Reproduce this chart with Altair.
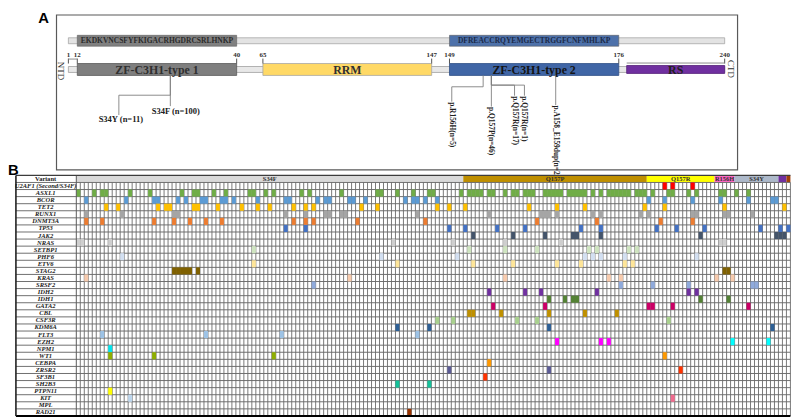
import altair as alt
import numpy as np
import pandas as pd

# =================== DATA ===================
# ---- Panel A: U2AF1 protein ----
PROTEIN_START, PROTEIN_END = 1, 240
DOMAIN_NAMES = ["ZF-C3H1-type 1", "RRM", "ZF-C3H1-type 2", "RS"]
DOMAIN_START = [12, 65, 149, 182]
DOMAIN_END = [40, 147, 176, 240]
TICK_POS = [1, 12, 40, 65, 147, 149, 176, 240]
SEQ_START = [12, 149]
SEQ_END = [40, 176]
SEQ_TEXT = ["EKDKVNCSFYFKIGACRHGDRCSRLHNKP", "DFREACCRQYEMGECTRGGFCNFMHLKP"]
MUT_LABEL = ["S34F (n=100)", "S34Y (n=11)", "p.R156H(n=5)", "p.Q157P(n=46)",
             "p.Q157R(n=17)", "p.Q157R(n=1)", "p.A158_E159dup(n=2)"]
MUT_POS = [34, 34, 156, 157, 157, 157, 158]

# ---- Panel B: co-mutation map ----
VARIANTS = ["S34F", "Q157P", "Q157R", "R156H", "S34Y", "A158_E159dup", "Q157R(n=1)"]
VARIANT_N = [97, 46, 17, 5, 11, 2, 1]
VARIANT_TEXT = ["S34F", "Q157P", "Q157R", "R156H", "S34Y", "", ""]
GENES = ["U2AF1 (Second/S34F)", "ASXL1", "BCOR", "TET2", "RUNX1", "DNMT3A", "TP53", "JAK2",
         "NRAS", "SETBP1", "PHF6", "ETV6", "STAG2", "KRAS", "SRSF2", "IDH2", "IDH1", "GATA2",
         "CBL", "CSF3R", "KDM6A", "FLT3", "EZH2", "NPM1", "WT1", "CEBPA", "ZRSR2", "SF3B1",
         "SH2B3", "PTPN11", "KIT", "MPL", "RAD21"]
U2AF1_COLS = [147, 149, 154]
ASXL1_COLS = [0, 4, 6, 7, 13, 18, 26, 29, 30, 34, 37, 43, 44, 47, 49, 56, 58, 66, 75, 76, 80, 84,
              88, 89, 96, 98, 99, 100, 101, 103, 104, 107, 109, 110, 112, 113, 114, 117, 118, 119,
              120, 121, 123, 124, 125, 126, 127, 129, 131, 133, 134, 135, 136, 137, 138, 140, 141,
              142, 144, 148, 149, 153, 155, 161, 162, 165, 168]
BCOR_COLS = [2, 12, 19, 20, 25, 27, 31, 32, 36, 37, 39, 45, 52, 53, 60, 62, 63, 68, 69, 72, 82,
             84, 85, 87, 90, 143, 147, 154, 161, 168, 174, 175]
TET2_COLS = [7, 10, 20, 22, 23, 29, 30, 35, 41, 45, 48, 54, 57, 59, 71, 75, 90, 93, 97, 113, 120,
             127, 142, 147, 162, 177]
RUNX1_COLS = [2, 11, 24, 25, 52, 57, 62, 63, 66, 67, 85, 103, 116, 117, 118, 120, 129, 131, 141,
              143, 154, 155, 162, 163, 169]
DNMT3A_COLS = [2, 6, 19, 24, 28, 32, 36, 54, 57, 59, 70, 87, 115, 130, 146, 154]
TP53_COLS = [52, 57, 93, 97, 105, 112, 126, 131, 145, 150, 157, 171, 176, 178]
JAK2_COLS = [99, 109, 117, 124, 125, 131, 156, 175, 176, 177]
NRAS_COLS = [0, 1, 8, 79, 94, 107, 121, 161, 162]
SETBP1_COLS = [44, 98, 107, 115, 128, 130, 138, 140]
PHF6_COLS = [11, 76, 95, 127, 129, 131, 137, 155]
ETV6_COLS = [44, 80, 99, 109, 120, 126, 137, 139]
STAG2_COLS = [24, 25, 26, 27, 28, 30, 162, 163]
KRAS_COLS = [2, 68, 107, 133, 136, 160, 164]
SRSF2_COLS = [59, 136, 144, 153, 169, 170]
IDH2_COLS = [103, 112, 116, 130, 153, 155]
IDH1_COLS = [118, 122, 124, 125, 156, 163]
GATA2_COLS = [104, 117, 143, 144, 149, 168]
CBL_COLS = [98, 99, 106, 118, 127, 135]
CSF3R_COLS = [90, 94, 110, 115, 148]
KDM6A_COLS = [80, 88, 118, 174]
FLT3_COLS = [6, 32, 51, 85]
EZH2_COLS = [120, 131, 133]
NPM1_COLS = [8]
WT1_COLS = [8, 19, 49]
CEBPA_COLS = [103]
ZRSR2_COLS = [93, 118]
SF3B1_COLS = [102]
SH2B3_COLS = [80, 88]
PTPN11_COLS = [8]
KIT_COLS = [13]
MPL_COLS = []
RAD21_COLS = [83]
# cells drawn in a second colour
EZH2_ALT_COLS = [164, 173]
WT1_ALT_COLS = [147]
ZRSR2_ALT_COLS = [151]
KIT_ALT_COLS = [149]

GENE_COLS = [U2AF1_COLS, ASXL1_COLS, BCOR_COLS, TET2_COLS, RUNX1_COLS, DNMT3A_COLS, TP53_COLS,
             JAK2_COLS, NRAS_COLS, SETBP1_COLS, PHF6_COLS, ETV6_COLS, STAG2_COLS, KRAS_COLS,
             SRSF2_COLS, IDH2_COLS, IDH1_COLS, GATA2_COLS, CBL_COLS, CSF3R_COLS, KDM6A_COLS,
             FLT3_COLS, EZH2_COLS, NPM1_COLS, WT1_COLS, CEBPA_COLS, ZRSR2_COLS, SF3B1_COLS,
             SH2B3_COLS, PTPN11_COLS, KIT_COLS, MPL_COLS, RAD21_COLS]
ALT_CELLS = [("EZH2", EZH2_ALT_COLS), ("WT1", WT1_ALT_COLS), ("ZRSR2", ZRSR2_ALT_COLS),
             ("KIT", KIT_ALT_COLS)]

# =================== STYLE / LAYOUT ===================
W, HA, HB = 792, 166, 245
SERIF = "Liberation Serif"
SANS = "Liberation Sans"
A_AA_KNOTS = [1, 12, 34, 40, 65, 147, 149, 156, 157, 158, 176, 182, 240]
A_PX_KNOTS = [61, 70, 164, 231, 257.5, 428, 446, 480, 488.3, 553.3, 617, 625, 724]
DOMAIN_FILL = ["#7f7f7f", "#ffd966", "#4066a6", "#7030a0"]
DOMAIN_STROKE = ["#5a5a5a", "#a6a6a6", "#2f4f85", "#55207a"]
DOMAIN_TEXT = ["#303030", "#303030", "#141414", "#202020"]
DOMAIN_Y1 = [54, 54, 54, 56]
DOMAIN_Y2 = [66, 66, 66, 64]
SEQ_FILL = ["#808080", "#4d71aa"]
SEQ_TEXT_COLOR = ["#2b2b2b", "#1c2a48"]
LBL_PX = [164, 112, 448.3, 488.3, 511.7, 521.7, 553.3]
LBL_ELBOW = [None, 86, 77.5, None, 75.8, 75.8, None]
LBL_END = [97, 106, 92.5, 97.5, 86.5, 86.5, 96]
LBL_ROT = [False, False, True, True, True, True, True]
LBL_DX = [5.5, 2, 0, 0, 0, 0, 0]

VARIANT_FILL = ["#d9d9d9", "#bf8f00", "#ffff00", "#ff66c4", "#adb9ca", "#7030a0", "#a0400a"]
GENE_FILL = ["#ff0000", "#70ad47", "#5b9bd5", "#ffc000", "#a5a5a5", "#ed7d31", "#4472c4",
             "#44546a", "#cfcfcf", "#cfe5c0", "#d3e0f2", "#ffe699", "#7f6000", "#f8cbad",
             "#8faadc", "#7030a0", "#548235", "#cc0066", "#bf9000", "#a9d18e", "#2e6096",
             "#9dc3e6", "#ff00ff", "#00e5ee", "#8fae00", "#ff9900", "#5c5c96", "#ff3300",
             "#14c29a", "#ffff00", "#bdd7ee", "#999999", "#993300"]
ALT_FILL = {"EZH2": "#00ffff", "WT1": "#ff9900", "ZRSR2": "#ff3300", "KIT": "#f06a8e"}
B_X0, B_X1 = 69, 790.4
B_Y0, B_Y1 = 1, 244
LABEL_X, LABEL_LEFT = 38, 8


def inv_px(px):
    return float(np.interp(px, A_PX_KNOTS, A_AA_KNOTS))


def fwd_aa(a):
    return float(np.interp(a, A_AA_KNOTS, A_PX_KNOTS))


def mid_aa(a, b):
    return inv_px((fwd_aa(a) + fwd_aa(b)) / 2)


XA = alt.Scale(domain=A_AA_KNOTS, range=A_PX_KNOTS, zero=False, nice=False)
YA = alt.Scale(domain=[0, HA], range=[0, HA], zero=False, nice=False)

# =================== PANEL A ===================
one = pd.DataFrame({"k": [0]})
frame = alt.Chart(one).mark_rect(fillOpacity=0, stroke="#595959", strokeWidth=1.2).encode(
    x=alt.value(49), x2=alt.value(737), y=alt.value(5), y2=alt.value(161.5))


def bar_layer(df, **kw):
    return alt.Chart(df).mark_rect(**kw).encode(
        x=alt.X("s:Q", scale=XA, axis=None), x2="e:Q",
        y=alt.Y("y1:Q", scale=YA, axis=None), y2="y2:Q")


seq_bg = bar_layer(pd.DataFrame({"s": [PROTEIN_START], "e": [PROTEIN_END], "y1": [28], "y2": [34]}),
                   fill="#e3e3e3", stroke="#a6a6a6", strokeWidth=0.8)
seq_df = pd.DataFrame({"s": SEQ_START, "e": SEQ_END, "y1": 25.5, "y2": 36.5, "fill": SEQ_FILL,
                       "t": SEQ_TEXT, "tc": SEQ_TEXT_COLOR})
seq_df["m"] = [mid_aa(a, b) for a, b in zip(SEQ_START, SEQ_END)]
seq_seg = alt.Chart(seq_df).mark_rect(stroke="#5f5f5f", strokeWidth=0.6).encode(
    x=alt.X("s:Q", scale=XA, axis=None), x2="e:Q",
    y=alt.Y("y1:Q", scale=YA, axis=None), y2="y2:Q",
    fill=alt.Fill("fill:N", scale=None))
seq_txt = alt.Chart(seq_df).mark_text(font=SERIF, fontSize=7.6, fontWeight="bold",
                                      baseline="middle").encode(
    x=alt.X("m:Q", scale=XA, axis=None), y=alt.value(31.2), text="t:N",
    color=alt.Color("tc:N", scale=None))

prot_bg = bar_layer(pd.DataFrame({"s": [PROTEIN_START], "e": [PROTEIN_END], "y1": [57], "y2": [63]}),
                    fill="#e8e8e8", stroke="#a0a0a0", strokeWidth=0.8)
dom_df = pd.DataFrame({"s": DOMAIN_START, "e": DOMAIN_END, "name": DOMAIN_NAMES, "y1": DOMAIN_Y1,
                       "y2": DOMAIN_Y2, "fill": DOMAIN_FILL, "st": DOMAIN_STROKE, "tc": DOMAIN_TEXT})
dom_df["m"] = [mid_aa(a, b) for a, b in zip(DOMAIN_START, DOMAIN_END)]
dom = alt.Chart(dom_df).mark_rect(strokeWidth=0.8).encode(
    x=alt.X("s:Q", scale=XA, axis=None), x2="e:Q",
    y=alt.Y("y1:Q", scale=YA, axis=None), y2="y2:Q",
    fill=alt.Fill("fill:N", scale=None), stroke=alt.Stroke("st:N", scale=None))
dom_txt = alt.Chart(dom_df).mark_text(font=SERIF, fontSize=12, fontWeight="bold",
                                      baseline="middle").encode(
    x=alt.X("m:Q", scale=XA, axis=None), y=alt.value(60.8), text="name:N",
    color=alt.Color("tc:N", scale=None))

tick_df = pd.DataFrame({"p": TICK_POS, "y1": 49, "y2": 54, "t": [str(v) for v in TICK_POS]})
ticks = alt.Chart(tick_df).mark_rule(color="#404040", strokeWidth=0.9).encode(
    x=alt.X("p:Q", scale=XA, axis=None), y=alt.Y("y1:Q", scale=YA, axis=None), y2="y2:Q")
tick_txt = alt.Chart(tick_df).mark_text(font=SERIF, fontSize=7, fontWeight="bold",
                                        baseline="bottom", color="#303030").encode(
    x=alt.X("p:Q", scale=XA, axis=None), y=alt.value(48.5), text="t:N")

segs = [(1, 12, 49.5, 49.5), (182, 240, 53.5, 53.5)]
htxt, vtxt = [], []
for lab, pos, lpx, elb, end, rot, dx in zip(MUT_LABEL, MUT_POS, LBL_PX, LBL_ELBOW, LBL_END,
                                             LBL_ROT, LBL_DX):
    la = inv_px(lpx)
    if elb is None:
        segs.append((pos, pos, 66, end))
    else:
        segs += [(pos, pos, 66, elb), (pos, la, elb, elb), (la, la, elb, end)]
    if rot:
        vtxt.append({"x": la, "y": end + 0.5, "t": lab})
    else:
        htxt.append({"x": inv_px(lpx + dx), "y": end + 4.5, "t": lab})
seg_df = pd.DataFrame(segs, columns=["a1", "a2", "y1", "y2"])
lines = alt.Chart(seg_df).mark_rule(color="#7f7f7f", strokeWidth=0.9).encode(
    x=alt.X("a1:Q", scale=XA, axis=None), x2="a2:Q",
    y=alt.Y("y1:Q", scale=YA, axis=None), y2="y2:Q")
h_lab = alt.Chart(pd.DataFrame(htxt)).mark_text(font=SERIF, fontSize=8.6, fontWeight="bold",
                                                baseline="middle", color="#202020").encode(
    x=alt.X("x:Q", scale=XA, axis=None), y=alt.Y("y:Q", scale=YA, axis=None), text="t:N")
v_lab = alt.Chart(pd.DataFrame(vtxt)).mark_text(font=SERIF, fontSize=7.5, fontWeight="bold",
                                                angle=90, align="left", baseline="middle",
                                                color="#202020").encode(
    x=alt.X("x:Q", scale=XA, axis=None), y=alt.Y("y:Q", scale=YA, axis=None), text="t:N")

a_lab = alt.Chart(one).mark_text(text="A", font=SANS, fontSize=15, fontWeight="bold",
                                 align="center", baseline="alphabetic", color="#000").encode(
    x=alt.value(36), y=alt.value(13))
ntd = alt.Chart(one).mark_text(text="NTD", font=SERIF, fontSize=9, angle=90, align="center",
                               baseline="middle", color="#303030").encode(
    x=alt.value(54), y=alt.value(61.5))
ctd = alt.Chart(one).mark_text(text="CTD", font=SERIF, fontSize=9, angle=90, align="center",
                               baseline="middle", color="#303030").encode(
    x=alt.value(730.5), y=alt.value(59.5))

panel_a = alt.layer(frame, seq_bg, seq_seg, seq_txt, prot_bg, dom, dom_txt, ticks, tick_txt,
                    lines, h_lab, v_lab, a_lab, ntd, ctd).properties(width=W, height=HA)

# =================== PANEL B ===================
NCOL = int(sum(VARIANT_N))
NROW = len(GENES)
XB = alt.Scale(domain=[0, NCOL], range=[B_X0, B_X1], zero=False, nice=False)
YB = alt.Scale(domain=[-1, NROW], range=[B_Y0, B_Y1], zero=False, nice=False)

ends = np.cumsum(VARIANT_N)
starts = ends - np.array(VARIANT_N)
hdr_df = pd.DataFrame({"s": starts, "e": ends, "v": VARIANTS, "t": VARIANT_TEXT,
                       "fill": VARIANT_FILL, "r0": -1, "r1": 0})
hdr_df["m"] = (hdr_df["s"] + hdr_df["e"]) / 2
hdr_df["rc"] = -0.5
hdr = alt.Chart(hdr_df).mark_rect().encode(
    x=alt.X("s:Q", scale=XB, axis=None), x2="e:Q",
    y=alt.Y("r0:Q", scale=YB, axis=None), y2="r1:Q", fill=alt.Fill("fill:N", scale=None))
hdr_txt = alt.Chart(hdr_df).mark_text(font=SERIF, fontSize=6.5, fontWeight="bold",
                                      baseline="middle", color="#303030").encode(
    x=alt.X("m:Q", scale=XB, axis=None), y=alt.Y("rc:Q", scale=YB, axis=None), text="t:N")

hgrid_df = pd.DataFrame({"r": list(range(0, NROW))})
hgrid = alt.Chart(hgrid_df).mark_rule(color="#6f6f6f", strokeWidth=1).encode(
    y=alt.Y("r:Q", scale=YB, axis=None), x=alt.value(LABEL_LEFT), x2=alt.value(B_X1))
htop = alt.Chart(pd.DataFrame({"r": [-1]})).mark_rule(color="#3c3c3c", strokeWidth=1.3).encode(
    y=alt.Y("r:Q", scale=YB, axis=None), x=alt.value(LABEL_LEFT), x2=alt.value(B_X1))
hbot = alt.Chart(pd.DataFrame({"r": [NROW]})).mark_rule(color="#000000", strokeWidth=2).encode(
    y=alt.Y("r:Q", scale=YB, axis=None), x=alt.value(LABEL_LEFT), x2=alt.value(B_X1))
vgrid_df = pd.DataFrame({"b": list(range(1, NCOL + 1)), "r0": 0, "r1": NROW})
vgrid = alt.Chart(vgrid_df).mark_rule(color="#6a6a6a", strokeWidth=0.9).encode(
    x=alt.X("b:Q", scale=XB, axis=None), y=alt.Y("r0:Q", scale=YB, axis=None), y2="r1:Q")
vfirst = alt.Chart(pd.DataFrame({"b": [0], "r0": [-1], "r1": [NROW]})).mark_rule(
    color="#5a5a5a", strokeWidth=1).encode(
    x=alt.X("b:Q", scale=XB, axis=None), y=alt.Y("r0:Q", scale=YB, axis=None), y2="r1:Q")
vleft = alt.Chart(pd.DataFrame({"r0": [-1], "r1": [NROW]})).mark_rule(
    color="#202020", strokeWidth=1.6).encode(
    x=alt.value(LABEL_LEFT), y=alt.Y("r0:Q", scale=YB, axis=None), y2="r1:Q")

rows = []
for gi, (g, cols) in enumerate(zip(GENES, GENE_COLS)):
    for c in cols:
        rows.append({"g": g, "c0": c, "c1": c + 1, "r0": gi, "r1": gi + 1, "fill": GENE_FILL[gi]})
for g, cols in ALT_CELLS:
    gi = GENES.index(g)
    for c in cols:
        rows.append({"g": g, "c0": c, "c1": c + 1, "r0": gi, "r1": gi + 1, "fill": ALT_FILL[g]})
cell_df = pd.DataFrame(rows)
cells = alt.Chart(cell_df).mark_rect().encode(
    x=alt.X("c0:Q", scale=XB, axis=None), x2="c1:Q",
    y=alt.Y("r0:Q", scale=YB, axis=None), y2="r1:Q", fill=alt.Fill("fill:N", scale=None))

lab_df = pd.DataFrame({"g": GENES, "rc": [i + 0.5 for i in range(NROW)]})
gene_lab = alt.Chart(lab_df).mark_text(font=SERIF, fontSize=6.6, fontWeight="bold",
                                       fontStyle="italic", baseline="middle",
                                       color="#1a1a1a").encode(
    x=alt.value(LABEL_X), y=alt.Y("rc:Q", scale=YB, axis=None), text="g:N")
var_lab = alt.Chart(pd.DataFrame({"rc": [-0.5]})).mark_text(
    text="Variant", font=SERIF, fontSize=6.6, fontWeight="bold", baseline="middle",
    color="#1a1a1a").encode(x=alt.value(LABEL_X), y=alt.Y("rc:Q", scale=YB, axis=None))
b_lab = alt.Chart(one).mark_text(text="B", font=SANS, fontSize=15, fontWeight="bold",
                                 align="left", baseline="alphabetic", color="#000").encode(
    x=alt.value(0), y=alt.value(1))

panel_b = alt.layer(hdr, hgrid, vgrid, cells, vfirst, htop, hbot, vleft, hdr_txt, gene_lab,
                    var_lab, b_lab).properties(width=W, height=HB)

chart = alt.vconcat(panel_a, panel_b, spacing=0, bounds="flush").configure_view(
    strokeWidth=0).properties(padding=0, background="white")

chart.save("out.html", embed_options={"renderer": "svg", "actions": False})
